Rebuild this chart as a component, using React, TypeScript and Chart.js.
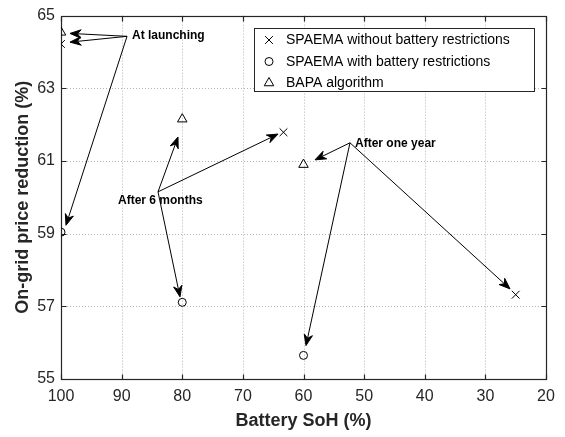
import React, { useEffect, useRef } from 'react';
import { Chart, registerables } from 'chart.js';

Chart.register(...registerables);

const FONT = '"Liberation Sans", Arial, Helvetica, sans-serif';
const AXIS_COLOR = '#262626';

// Data
const sohCross = [100, 63.3, 25];
const noRestriction = [64.22, 61.79, 57.32];
const sohCircle = [100, 80, 60];
const withRestriction = [59.04, 57.11, 55.65];
const sohTriangle = [100, 80, 60];
const bapa = [64.54, 62.15, 60.9];

const seriesNames = [
  'SPAEMA without battery restrictions',
  'SPAEMA with battery restrictions',
  'BAPA algorithm',
];
const markerStyles = ['crossRot', 'circle', 'triangle'];

const xRange = [20, 100];
const xStep = 10;
const yRange = [55, 65];
const yStep = 2;

const xTitle = 'Battery SoH (%)';
const yTitle = 'On-grid price reduction (%)';

// Annotations (data coordinates)
const annotationLabels = ['At launching', 'After 6 months', 'After one year'];
const labelAnchors = [
  [88.29, 64.46],
  [90.6, 59.91],
  [51.5, 61.47],
];
const arrowOrigins = [
  [89.11, 64.43],
  [84.0, 60.15],
  [52.33, 61.5],
];
const arrowTips = [
  [[98.52, 64.51], [98.52, 64.27], [99.18, 59.23]],
  [[80.7, 61.66], [64.2, 61.74], [80.37, 57.26]],
  [[58.1, 61.03], [59.59, 55.92], [25.94, 57.48]],
];

function drawMarker(ctx: CanvasRenderingContext2D, style: string, x: number, y: number) {
  ctx.save();
  ctx.strokeStyle = '#000';
  ctx.lineWidth = 1;
  ctx.beginPath();
  if (style === 'crossRot') {
    const d = 3.9;
    ctx.moveTo(x - d, y - d);
    ctx.lineTo(x + d, y + d);
    ctx.moveTo(x - d, y + d);
    ctx.lineTo(x + d, y - d);
  } else if (style === 'circle') {
    ctx.arc(x, y, 4, 0, Math.PI * 2);
  } else {
    const r = 5.5;
    ctx.moveTo(x, y - r);
    ctx.lineTo(x + r * Math.sin((2 * Math.PI) / 3), y - r * Math.cos((2 * Math.PI) / 3));
    ctx.lineTo(x + r * Math.sin((4 * Math.PI) / 3), y - r * Math.cos((4 * Math.PI) / 3));
    ctx.closePath();
  }
  ctx.stroke();
  ctx.restore();
}

const framePlugin = {
  id: 'frameGrid',
  beforeDatasetsDraw(chart: any) {
    const { ctx, chartArea, scales } = chart;
    const { left, right, top, bottom } = chartArea;
    const xs = scales.x;
    const ys = scales.y;
    ctx.save();
    ctx.strokeStyle = 'rgba(38,38,38,0.35)';
    ctx.lineWidth = 1;
    ctx.setLineDash([1, 2]);
    xs.ticks.forEach((t: any) => {
      const px = Math.round(xs.getPixelForValue(t.value)) + 0.5;
      if (px <= left + 1 || px >= right - 1) return;
      ctx.beginPath();
      ctx.moveTo(px, top);
      ctx.lineTo(px, bottom);
      ctx.stroke();
    });
    ys.ticks.forEach((t: any) => {
      const py = Math.round(ys.getPixelForValue(t.value)) + 0.5;
      if (py <= top + 1 || py >= bottom - 1) return;
      ctx.beginPath();
      ctx.moveTo(left, py);
      ctx.lineTo(right, py);
      ctx.stroke();
    });
    ctx.setLineDash([]);
    ctx.strokeStyle = AXIS_COLOR;
    ctx.lineWidth = 1.2;
    const L = Math.round(left) + 0.5;
    const R = Math.round(right) + 0.5;
    const T = Math.round(top) + 0.5;
    const B = Math.round(bottom) + 0.5;
    ctx.strokeRect(L, T, R - L, B - T);
    const tl = 5;
    ctx.beginPath();
    xs.ticks.forEach((t: any) => {
      const px = Math.round(xs.getPixelForValue(t.value)) + 0.5;
      ctx.moveTo(px, B);
      ctx.lineTo(px, B - tl);
      ctx.moveTo(px, T);
      ctx.lineTo(px, T + tl);
    });
    ys.ticks.forEach((t: any) => {
      const py = Math.round(ys.getPixelForValue(t.value)) + 0.5;
      ctx.moveTo(L, py);
      ctx.lineTo(L + tl, py);
      ctx.moveTo(R, py);
      ctx.lineTo(R - tl, py);
    });
    ctx.stroke();
    ctx.restore();
  },
};

function drawArrow(ctx: CanvasRenderingContext2D, x1: number, y1: number, x2: number, y2: number) {
  const dx = x2 - x1;
  const dy = y2 - y1;
  const len = Math.hypot(dx, dy);
  const ux = dx / len;
  const uy = dy / len;
  const nx = -uy;
  const ny = ux;
  const HL = 11;
  const HW = 4.2;
  const notch = 7.5;
  ctx.beginPath();
  ctx.moveTo(x1, y1);
  ctx.lineTo(x2 - ux * notch, y2 - uy * notch);
  ctx.stroke();
  ctx.beginPath();
  ctx.moveTo(x2, y2);
  ctx.lineTo(x2 - ux * HL + nx * HW, y2 - uy * HL + ny * HW);
  ctx.lineTo(x2 - ux * notch, y2 - uy * notch);
  ctx.lineTo(x2 - ux * HL - nx * HW, y2 - uy * HL - ny * HW);
  ctx.closePath();
  ctx.fill();
  ctx.stroke();
}

const annotationPlugin = {
  id: 'annotations',
  afterDatasetsDraw(chart: any) {
    const { ctx, scales } = chart;
    const xs = scales.x;
    const ys = scales.y;
    ctx.save();
    ctx.strokeStyle = '#000';
    ctx.fillStyle = '#000';
    ctx.lineWidth = 1;
    ctx.lineJoin = 'miter';
    arrowOrigins.forEach((o, i) => {
      const ox = xs.getPixelForValue(o[0]);
      const oy = ys.getPixelForValue(o[1]);
      arrowTips[i].forEach((t) => {
        drawArrow(ctx, ox, oy, xs.getPixelForValue(t[0]), ys.getPixelForValue(t[1]));
      });
    });
    ctx.font = `bold 12px ${FONT}`;
    ctx.textAlign = 'left';
    ctx.textBaseline = 'middle';
    annotationLabels.forEach((lab, i) => {
      ctx.fillText(lab, xs.getPixelForValue(labelAnchors[i][0]), ys.getPixelForValue(labelAnchors[i][1]));
    });
    ctx.restore();
  },
  afterDraw(chart: any) {
    const { ctx, chartArea } = chart;
    const bx = Math.round(chartArea.right) - 292 + 0.5;
    const by = Math.round(chartArea.top) + 12 + 0.5;
    const bw = 280;
    const bh = 63;
    ctx.save();
    ctx.fillStyle = '#fff';
    ctx.fillRect(bx, by, bw, bh);
    ctx.strokeStyle = AXIS_COLOR;
    ctx.lineWidth = 1;
    ctx.strokeRect(bx, by, bw, bh);
    ctx.font = `14px ${FONT}`;
    ctx.fillStyle = '#000';
    ctx.textAlign = 'left';
    ctx.textBaseline = 'middle';
    seriesNames.forEach((name, i) => {
      const cy = by + 11.5 + i * 21.5;
      drawMarker(ctx, markerStyles[i], bx + 14.5, cy);
      ctx.fillText(name, bx + 31.5, cy + 0.5);
    });
    ctx.restore();
  },
};

export default function App() {
  const ref = useRef<HTMLCanvasElement | null>(null);
  useEffect(() => {
    document.body.style.margin = '0';
    const canvas = ref.current;
    if (!canvas) return;
    const mk = (xsArr: number[], ysArr: number[]) => xsArr.map((v, i) => ({ x: v, y: ysArr[i] }));
    const chart = new Chart(canvas, {
      type: 'scatter',
      data: {
        datasets: [
          {
            label: seriesNames[0],
            data: mk(sohCross, noRestriction),
            pointStyle: 'crossRot',
            pointRadius: 5.5,
            borderColor: '#000',
            backgroundColor: 'rgba(0,0,0,0)',
            borderWidth: 1,
          },
          {
            label: seriesNames[1],
            data: mk(sohCircle, withRestriction),
            pointStyle: 'circle',
            pointRadius: 4,
            borderColor: '#000',
            backgroundColor: 'rgba(0,0,0,0)',
            borderWidth: 1,
          },
          {
            label: seriesNames[2],
            data: mk(sohTriangle, bapa),
            pointStyle: 'triangle',
            pointRadius: 5.5,
            borderColor: '#000',
            backgroundColor: 'rgba(0,0,0,0)',
            borderWidth: 1,
          },
        ],
      },
      options: {
        animation: false,
        responsive: false,
        devicePixelRatio: 1,
        layout: { padding: { top: 8, right: 19, left: 0, bottom: 0 } },
        plugins: { legend: { display: false }, tooltip: { enabled: false } },
        scales: {
          x: {
            type: 'linear',
            min: xRange[0],
            max: xRange[1],
            reverse: true,
            grid: { display: false, drawTicks: false },
            border: { display: false },
            ticks: {
              stepSize: xStep,
              padding: 8,
              color: AXIS_COLOR,
              font: { family: FONT, size: 16 },
              maxRotation: 0,
            },
            title: {
              display: true,
              text: xTitle,
              color: AXIS_COLOR,
              font: { family: FONT, size: 18, weight: 'bold' },
              padding: { top: 0, bottom: 5 },
            },
            afterFit: (s: any) => {
              s.height = 58;
            },
          },
          y: {
            type: 'linear',
            min: yRange[0],
            max: yRange[1],
            grid: { display: false, drawTicks: false },
            border: { display: false },
            ticks: {
              stepSize: yStep,
              padding: 6,
              color: AXIS_COLOR,
              font: { family: FONT, size: 16 },
            },
            title: {
              display: true,
              text: yTitle,
              color: AXIS_COLOR,
              font: { family: FONT, size: 18, weight: 'bold' },
              padding: { top: 12, bottom: 0 },
            },
            afterFit: (s: any) => {
              s.width = 61;
            },
          },
        },
      },
      plugins: [framePlugin, annotationPlugin],
    } as any);
    return () => chart.destroy();
  }, []);
  return (
    <div style={{ width: 565, height: 437 }}>
      <canvas ref={ref} width={565} height={437} style={{ display: 'block' }} />
    </div>
  );
}
